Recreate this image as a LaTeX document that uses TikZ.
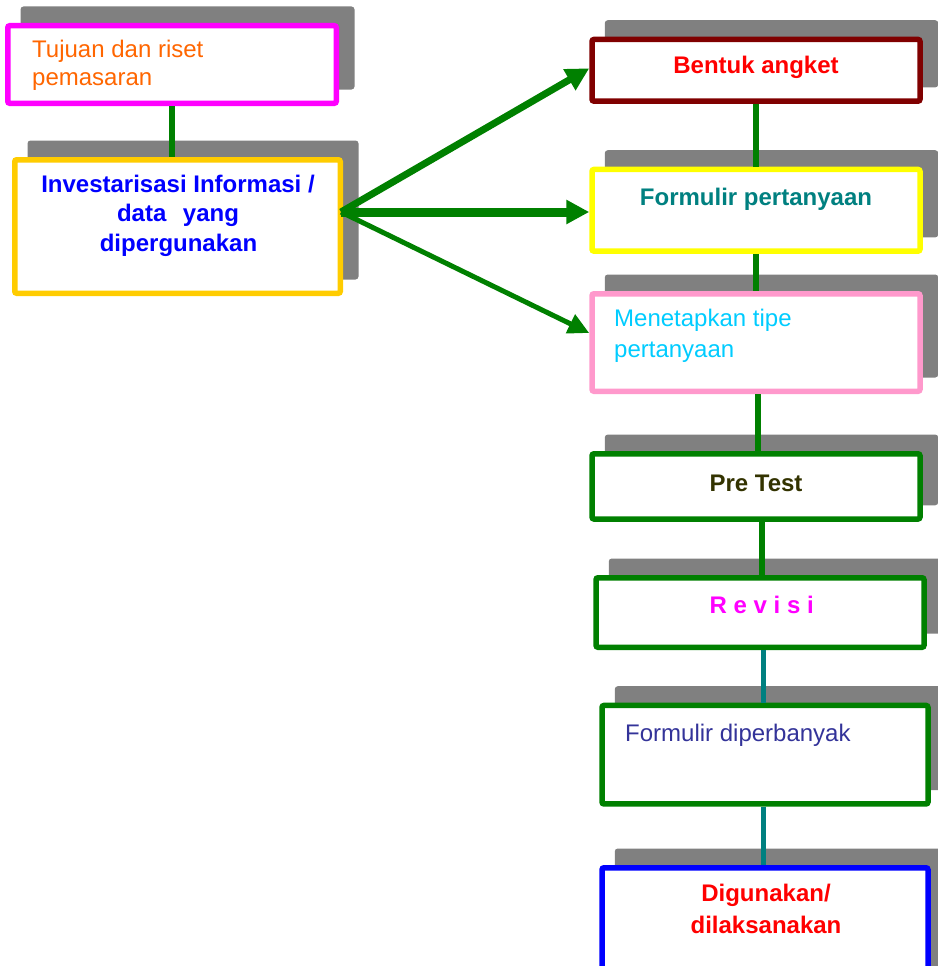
\documentclass[tikz,border=0pt]{standalone}
\usepackage{fontspec}
\setmainfont{Liberation Sans}
\usetikzlibrary{arrows.meta,calc,backgrounds}
\definecolor{cshadow}{HTML}{808080}
\definecolor{cmag}{HTML}{FF00FF}
\definecolor{cgold}{HTML}{FFCC00}
\definecolor{cdred}{HTML}{800000}
\definecolor{cyel}{HTML}{FFFF00}
\definecolor{cpink}{HTML}{FF99CC}
\definecolor{cgreen}{HTML}{008000}
\definecolor{cblue}{HTML}{0000FF}
\definecolor{cteal}{HTML}{008080}
\definecolor{corange}{HTML}{FF6600}
\definecolor{csky}{HTML}{00CCFF}
\definecolor{cnavy}{HTML}{333399}
\definecolor{colive}{HTML}{333300}
\definecolor{cred}{HTML}{FF0000}
\begin{document}
\begin{tikzpicture}[x=1pt,y=-1pt,
  box/.style={draw, fill=white, line width=5.5pt, rounded corners=2pt, inner sep=0pt},
  txt/.style={inner sep=0pt, font=\fontsize{24}{29.5}\selectfont},
  btxt/.style={inner sep=0pt, font=\fontsize{24}{29.5}\selectfont\bfseries},
  link/.style={line width=5.5pt, draw=cgreen},
  tlink/.style={line width=5.5pt, draw=cteal},
  arr/.style={draw=cgreen, -{Triangle[length=23pt,width=23pt]}}]
\useasboundingbox (0,0) rectangle (937,966);
% boxes
\node[box, draw=cmag,  minimum width=328.5pt, minimum height=77.5pt]  (A) at (172,64.5) {};
\node[box, draw=cgold, minimum width=325.5pt, minimum height=133.5pt] (B) at (177.5,226.5) {};
\node[box, draw=cdred, minimum width=328pt, minimum height=61.7pt]    (C) at (756,70.3) {};
\node[box, draw=cyel,  minimum width=328pt, minimum height=81.7pt]    (D) at (756,210.3) {};
\node[box, draw=cpink, minimum width=328pt, minimum height=97.5pt]    (E) at (756,342.5) {};
\node[box, draw=cgreen,minimum width=328pt, minimum height=65.2pt]    (F) at (756,486.4) {};
\node[box, draw=cgreen,minimum width=328pt, minimum height=69.5pt]    (G) at (760,612.5) {};
\node[box, draw=cgreen,minimum width=326pt, minimum height=98.5pt]    (H) at (765,754.7) {};
\node[box, draw=cblue, minimum width=326pt, minimum height=117.3pt]   (I) at (765,926.4) {};
% shadows
\begin{scope}[on background layer]
\foreach \n in {A,B,C,D,E,F,G,H,I}
  \fill[cshadow, rounded corners=3pt] ($(\n.south west)+(15.5,-16.5)$) rectangle ($(\n.north east)+(15.5,-16.5)$);
\end{scope}
% connectors
\draw[link] (A.south) -- (A.south |- B.north);
\draw[link] (C.south) -- (D.north);
\draw[link] (D.south) -- (E.north);
\draw[link] ($(E.south)+(2,0)$) coordinate (e1) -- (e1 |- F.north);
\draw[link] ($(F.south)+(6,0)$) coordinate (f1) -- (f1 |- G.north);
\draw[tlink] ($(G.south)+(3.3,0)$) coordinate (g1) -- (g1 |- H.north);
\draw[tlink] ($(H.south)+(-1.7,0)$) coordinate (h1) -- (h1 |- I.north);
% arrows
\coordinate (o) at (341,212);
\draw[arr, line width=7pt] (o) -- ($(C.west)+(0,-2)$);
\draw[arr, line width=9pt] (o) -- ($(D.west)+(0,1.7)$);
\draw[arr, line width=5pt, -{Triangle[length=21pt,width=20pt]}] (o) -- ($(E.west)+(0,-9.5)$);
% texts
\node[txt, text=corange, anchor=base west] (t1a) at (32,57) {Tujuan dan riset};
\node[txt, text=corange, anchor=base west] (t1b) at (32,85) {pemasaran};
\node[btxt, text=cblue, anchor=base] (t2a) at (178,192) {Investarisasi Informasi /};
\node[btxt, text=cblue, anchor=base] (t2b) at (178,221) {data\hspace{16.6pt}yang};
\node[btxt, text=cblue, anchor=base] (t2c) at (178.5,251) {dipergunakan};
\node[btxt, text=cred, anchor=base] (t3) at (756,74) {Bentuk angket};
\node[btxt, text=cteal, anchor=base] (t4) at (756,205.7) {Formulir pertanyaan};
\node[txt, text=csky, anchor=base west] (t5a) at (614,326) {Menetapkan tipe};
\node[txt, text=csky, anchor=base west] (t5b) at (614,357.3) {pertanyaan};
\node[btxt, text=colive, anchor=base] (t6) at (756,491.7) {Pre Test};
\node[btxt, text=cmag, anchor=base] (t7) at (761.7,613.3) {R e v i s i};
\node[txt, text=cnavy, anchor=base west] (t8) at (625,741.7) {Formulir diperbanyak};
\node[btxt, text=cred, anchor=base] (t9a) at (766,901.7) {Digunakan/};
\node[btxt, text=cred, anchor=base] (t9b) at (766,933.3) {dilaksanakan};
\end{tikzpicture}
\end{document}
